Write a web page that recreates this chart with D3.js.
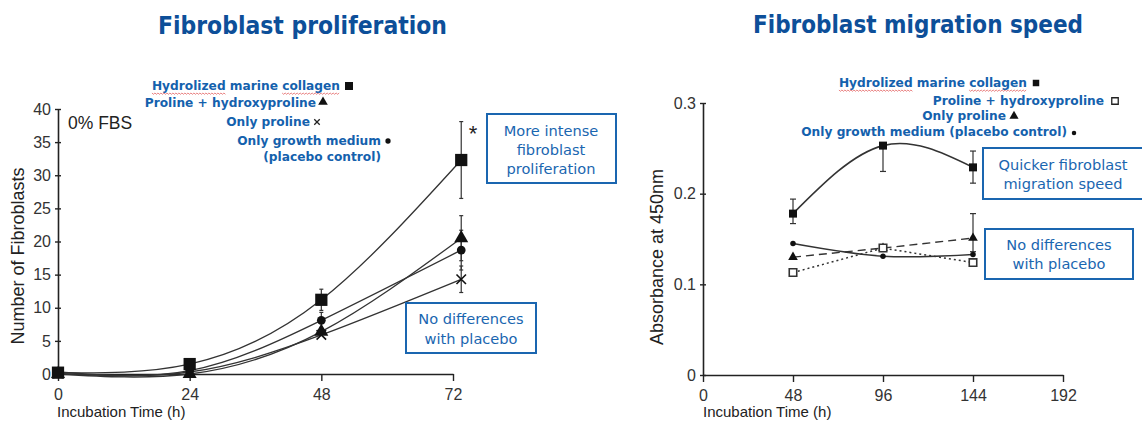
<!DOCTYPE html>
<html><head><meta charset="utf-8">
<script src="https://cdn.jsdelivr.net/npm/d3@7"></script>
<style>body{margin:0;background:#fff}svg{display:block}</style>
</head><body>
<script>
// ---------- DATA ----------
const leftTimes = [0, 24, 48, 73.5];
const leftCollagen = [0.2, 1.5, 11.2, 32.3];
const leftCollagenErr = [0, 0, 1.6, 5.8];
const leftProHyp = [0, 0, 6.4, 20.5];
const leftProHypErr = [0, 0, 0, 3.4];
const leftProline = [0.1, 0.3, 5.9, 14.3];
const leftProlineErr = [0, 0, 0, 2.0];
const leftPlacebo = [0.3, 0.5, 8.1, 18.7];
const leftPlaceboErr = [0, 0, 1.2, 3.0];
const leftXTicks = [0, 24, 48, 72];
const leftYTicks = [0, 5, 10, 15, 20, 25, 30, 35, 40];

const rightTimes = [48, 96, 144];
const rightCollagen = [0.178, 0.253, 0.229];
const rightCollagenLo = [0.167, 0.2245, 0.2116];
const rightCollagenHi = [0.194, 0.256, 0.247];
const rightProHyp = [0.113, 0.140, 0.124];
const rightProline = [0.130, 0.140, 0.151];
const rightProlineLo = [0.130, 0.140, 0.136];
const rightProlineHi = [0.130, 0.140, 0.178];
const rightPlacebo = [0.145, 0.131, 0.133];
const rightXTicks = [0, 48, 96, 144, 192];
const rightYTicks = [0, 0.1, 0.2, 0.3];

const titles = ["Fibroblast proliferation", "Fibroblast migration speed"];
const leftLegend = ["Hydrolized marine collagen", "Proline + hydroxyproline", "Only proline", "Only growth medium", "(placebo control)"];
const rightLegend = ["Hydrolized marine collagen", "Proline + hydroxyproline", "Only proline", "Only growth medium (placebo control)"];

// ---------- SETUP ----------
const W = 1142, H = 421;
const svg = d3.select("body").append("svg").attr("width", W).attr("height", H);
svg.append("rect").attr("width", W).attr("height", H).attr("fill", "#fff");

const BLUE_T = "#0d4f99", BLUE = "#1461ad", BOX = "#1a66b0", INK = "#222";
const AX_FONT = "'Liberation Sans', Arial, sans-serif";
const TX_FONT = "'DejaVu Sans', Verdana, sans-serif";

const timesSym = { draw(ctx, size) { const r = Math.sqrt(size) / 2; ctx.moveTo(-r, -r); ctx.lineTo(r, r); ctx.moveTo(-r, r); ctx.lineTo(r, -r); } };

// titles
svg.append("text").attr("x", 158).attr("y", 34).text(titles[0])
  .attr("font-family", TX_FONT).attr("font-weight", "bold").attr("font-size", 24)
  .attr("fill", BLUE_T).attr("textLength", 289).attr("lengthAdjust", "spacingAndGlyphs");
svg.append("text").attr("x", 753).attr("y", 33).text(titles[1])
  .attr("font-family", TX_FONT).attr("font-weight", "bold").attr("font-size", 24)
  .attr("fill", BLUE_T).attr("textLength", 330).attr("lengthAdjust", "spacingAndGlyphs");

// ---------- helpers ----------
function drawAxes(x, y, xTicks, yTicks, yFmt) {
  const g = svg.append("g");
  const xa = g.append("g").attr("transform", `translate(0,${y(0)})`)
    .call(d3.axisBottom(x).tickValues(xTicks).tickSize(7).tickSizeOuter(0).tickPadding(5));
  const ya = g.append("g").attr("transform", `translate(${x(0)},0)`)
    .call(d3.axisLeft(y).tickValues(yTicks).tickSize(3).tickSizeOuter(0).tickPadding(4).tickFormat(yFmt));
  ya.selectAll(".tick line").attr("x1", 3);
  [xa, ya].forEach(a => {
    a.select(".domain").attr("stroke", INK).attr("stroke-width", 1.6);
    a.selectAll(".tick line").attr("stroke", INK).attr("stroke-width", 1.4);
    a.selectAll("text").attr("font-family", AX_FONT).attr("font-size", 16).attr("fill", "#333");
  });
  xa.selectAll("text").attr("dy", "0.85em");
  return g;
}
function drawLine(x, y, xs, ys, curve, dash, w) {
  const pts = xs.map((t, i) => [t, ys[i]]);
  svg.append("path").datum(pts)
    .attr("d", d3.line().x(d => x(d[0])).y(d => y(d[1])).curve(curve))
    .attr("fill", "none").attr("stroke", "#333").attr("stroke-width", w || 1.3)
    .attr("stroke-dasharray", dash || null);
}
function drawErr(x, y, xs, lo, hi, cap) {
  xs.forEach((t, i) => {
    if (hi[i] - lo[i] <= 0) return;
    const g = svg.append("g").attr("stroke", "#333").attr("stroke-width", 1.2);
    g.append("line").attr("x1", x(t)).attr("x2", x(t)).attr("y1", y(lo[i])).attr("y2", y(hi[i]));
    g.append("line").attr("x1", x(t) - cap).attr("x2", x(t) + cap).attr("y1", y(lo[i])).attr("y2", y(lo[i]));
    g.append("line").attr("x1", x(t) - cap).attr("x2", x(t) + cap).attr("y1", y(hi[i])).attr("y2", y(hi[i]));
  });
}
function drawMarks(x, y, xs, ys, type, size, fill, stroke) {
  xs.forEach((t, i) => {
    svg.append("path").attr("transform", `translate(${x(t)},${y(ys[i])})`)
      .attr("d", d3.symbol().type(type).size(size)())
      .attr("fill", fill).attr("stroke", stroke || "none").attr("stroke-width", stroke ? 1.6 : 0);
  });
}
function legendRow(xEnd, yBase, label, type, size, fill, stroke, symDx, symDy, squiggle) {
  const t = svg.append("text").attr("x", xEnd).attr("y", yBase).attr("text-anchor", "end")
    .attr("font-family", TX_FONT).attr("font-weight", "bold").attr("font-size", 12.2)
    .attr("fill", BLUE).text(label);
  if (type) {
    svg.append("path").attr("transform", `translate(${xEnd + symDx},${yBase - symDy})`)
      .attr("d", d3.symbol().type(type).size(size)())
      .attr("fill", fill).attr("stroke", stroke || "none").attr("stroke-width", stroke ? 1.3 : 0);
  }
  if (squiggle) {
    const node = t.node();
    squiggle.forEach(([s, n]) => {
      const x0 = node.getStartPositionOfChar(s).x;
      const x1 = node.getEndPositionOfChar(s + n - 1).x;
      const p = d3.path(); let k = 0;
      p.moveTo(x0, yBase + 3);
      for (let xx = x0 + 1.5; xx <= x1; xx += 1.5) { k++; p.lineTo(xx, yBase + 3 + (k % 2 ? 1.3 : 0)); }
      svg.append("path").attr("d", p.toString()).attr("fill", "none").attr("stroke", "#e05555").attr("stroke-width", 0.9).attr("opacity", 0.8);
    });
  }
}
function box(x0, y0, w, h, lines, cx, bases) {
  svg.append("rect").attr("x", x0).attr("y", y0).attr("width", w).attr("height", h)
    .attr("fill", "#fff").attr("stroke", BOX).attr("stroke-width", 2);
  lines.forEach((l, i) => svg.append("text").attr("x", cx).attr("y", bases[i]).attr("text-anchor", "middle")
    .attr("font-family", TX_FONT).attr("font-size", 14.6).attr("fill", BOX).text(l));
}

// ---------- LEFT CHART ----------
const xL = d3.scaleLinear().domain([0, 72]).range([58, 453]);
const yL = d3.scaleLinear().domain([0, 40]).range([374, 109]);
drawAxes(xL, yL, leftXTicks, leftYTicks, d3.format("d"));

drawLine(xL, yL, leftTimes, leftCollagen, d3.curveNatural);
drawLine(xL, yL, leftTimes, leftProHyp, d3.curveNatural);
drawLine(xL, yL, leftTimes, leftProline, d3.curveNatural);
drawLine(xL, yL, leftTimes, leftPlacebo, d3.curveNatural);

const lo = (v, e) => v.map((d, i) => d - e[i]), hi = (v, e) => v.map((d, i) => d + e[i]);
drawErr(xL, yL, leftTimes, lo(leftProline, leftProlineErr), hi(leftProline, leftProlineErr), 2);
drawErr(xL, yL, leftTimes, lo(leftPlacebo, leftPlaceboErr), hi(leftPlacebo, leftPlaceboErr), 2);
drawErr(xL, yL, leftTimes, lo(leftProHyp, leftProHypErr), hi(leftProHyp, leftProHypErr), 2);
drawErr(xL, yL, leftTimes, lo(leftCollagen, leftCollagenErr), hi(leftCollagen, leftCollagenErr), 2);

drawMarks(xL, yL, leftTimes, leftPlacebo, d3.symbolCircle, 60, "#111");
drawMarks(xL, yL, leftTimes, leftProline, timesSym, 90, "none", "#111");
drawMarks(xL, yL, leftTimes, leftProHyp, d3.symbolTriangle, 85, "#111");
drawMarks(xL, yL, leftTimes, leftCollagen, d3.symbolSquare, 150, "#111");

svg.append("text").attr("x", 68).attr("y", 129).attr("font-family", AX_FONT).attr("font-size", 17.5).attr("fill", "#222").text("0% FBS");
svg.append("text").attr("transform", "translate(24,256) rotate(-90)").attr("text-anchor", "middle")
  .attr("font-family", AX_FONT).attr("font-size", 18).attr("fill", "#222").text("Number of Fibroblasts");
svg.append("text").attr("x", 57).attr("y", 417).attr("font-family", AX_FONT).attr("font-size", 15).attr("fill", "#222").text("Incubation Time (h)");
svg.append("text").attr("x", 473).attr("y", 141).attr("text-anchor", "middle").attr("font-family", AX_FONT).attr("font-size", 22).attr("fill", "#222").text("*");

legendRow(340, 90, leftLegend[0], d3.symbolSquare, 64, "#111", null, 9, 4, [[0, 10], [18, 8]]);
legendRow(316, 107, leftLegend[1], d3.symbolTriangle, 40, "#111", null, 7, 5);
legendRow(310, 126, leftLegend[2], timesSym, 30, "none", "#222", 7, 4);
legendRow(381, 145, leftLegend[3], d3.symbolCircle, 22, "#111", null, 7, 4);
legendRow(381, 161, leftLegend[4]);

box(487, 114, 129, 69, ["More intense", "fibroblast", "proliferation"], 551, [136, 155, 174]);
box(406, 303, 130, 50, ["No differences", "with placebo"], 471, [324, 344]);

// ---------- RIGHT CHART ----------
const xR = d3.scaleLinear().domain([0, 192]).range([703, 1063]);
const yR = d3.scaleLinear().domain([0, 0.3]).range([375, 103]);
drawAxes(xR, yR, rightXTicks, rightYTicks, d => d === 0 ? "0" : d3.format(".1f")(d));

drawLine(xR, yR, rightTimes, rightCollagen, d3.curveNatural, null, 1.6);
drawLine(xR, yR, rightTimes, rightPlacebo, d3.curveNatural, null, 1.5);
drawLine(xR, yR, rightTimes, rightProline, d3.curveLinear, "8,5", 1.4);
drawLine(xR, yR, rightTimes, rightProHyp, d3.curveLinear, "2,3", 1.5);

drawErr(xR, yR, rightTimes, rightCollagenLo, rightCollagenHi, 3);
drawErr(xR, yR, rightTimes, rightProlineLo, rightProlineHi, 3);

drawMarks(xR, yR, rightTimes, rightProline, d3.symbolTriangle, 40, "#111");
drawMarks(xR, yR, rightTimes, rightPlacebo, d3.symbolCircle, 24, "#111");
drawMarks(xR, yR, rightTimes, rightProHyp, d3.symbolSquare, 56, "#fff", "#333");
drawMarks(xR, yR, rightTimes, rightCollagen, d3.symbolSquare, 64, "#111");

svg.append("text").attr("transform", "translate(663,257) rotate(-90)").attr("text-anchor", "middle")
  .attr("font-family", AX_FONT).attr("font-size", 18).attr("fill", "#222").text("Absorbance at 450nm");
svg.append("text").attr("x", 703).attr("y", 417).attr("font-family", AX_FONT).attr("font-size", 15).attr("fill", "#222").text("Incubation Time (h)");

legendRow(1027, 87, rightLegend[0], d3.symbolSquare, 42, "#111", null, 9, 4, [[0, 10], [18, 8]]);
legendRow(1104, 105, rightLegend[1], d3.symbolSquare, 42, "#fff", "#222", 11, 4);
legendRow(1006, 120, rightLegend[2], d3.symbolTriangle, 36, "#111", null, 8, 4);
legendRow(1067, 136, rightLegend[3], d3.symbolCircle, 16, "#111", null, 7, 3);

box(983, 148, 170, 51, ["Quicker fibroblast", "migration speed"], 1063, [170, 189]);
box(985, 229, 148, 50, ["No differences", "with placebo"], 1059, [250, 269]);
</script>
</body></html>
